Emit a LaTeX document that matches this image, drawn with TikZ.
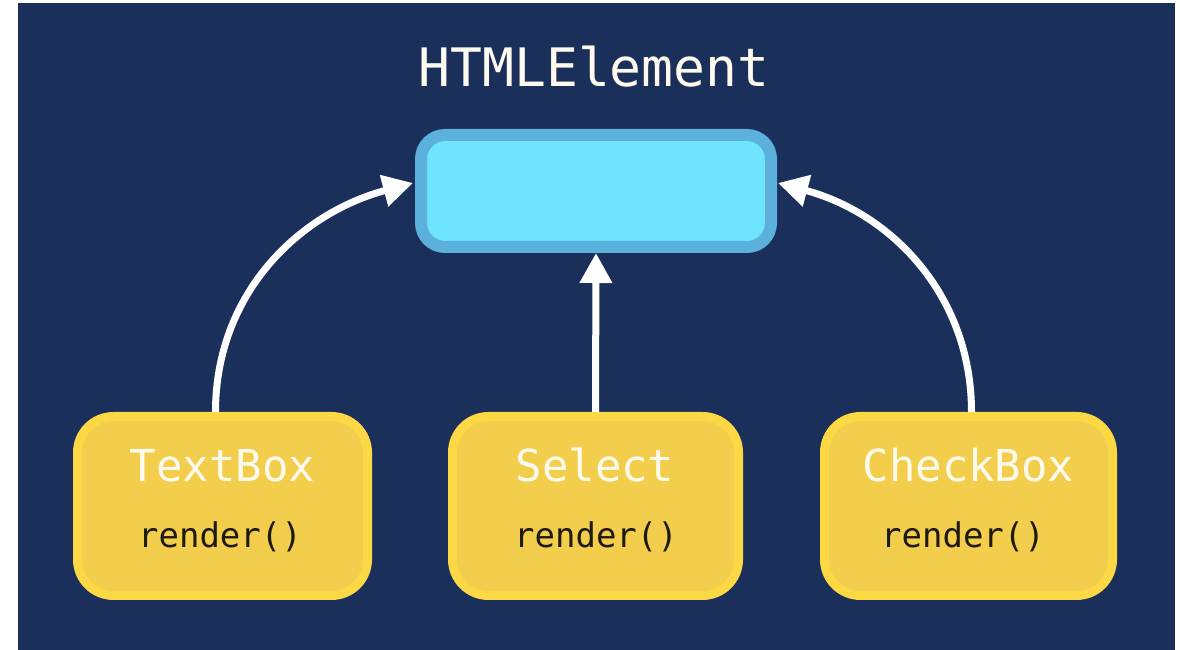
\documentclass[tikz,border=0pt]{standalone}
\usepackage{fontspec}
\newfontfamily\codefont{DejaVu Sans Mono}
\usetikzlibrary{arrows.meta}
\definecolor{navy}{HTML}{1B2F5B}
\definecolor{boxgold}{HTML}{F3CD4C}
\definecolor{boxgoldrim}{HTML}{FDD845}
\definecolor{skyfill}{HTML}{6EE4FE}
\definecolor{skyrim}{HTML}{5BB0DC}
\definecolor{cream}{HTML}{FFFAEE}
\definecolor{ink}{HTML}{1E1A10}
\tikzset{
  classbox/.style={rectangle, rounded corners=36pt, fill=boxgold, draw=boxgoldrim,
    line width=9pt, minimum height=179pt, inner sep=0pt},
  basebox/.style={rectangle, rounded corners=24pt, fill=skyfill, draw=skyrim,
    line width=12pt, minimum width=350pt, minimum height=112pt, inner sep=0pt},
  classname/.style={anchor=base, text=cream, font=\codefont\fontsize{44}{44}\selectfont, inner sep=0pt},
  methodname/.style={anchor=base, text=ink, font=\codefont\fontsize{34}{34}\selectfont, inner sep=0pt},
  titletext/.style={anchor=base, text=cream, font=\codefont\fontsize{53}{53}\selectfont, inner sep=0pt},
  linkarrow/.style={draw=white, line width=7pt, -{Triangle[length=30pt,width=31pt]}}
}
\begin{document}
\begin{tikzpicture}[x=1pt, y=1pt]
  \useasboundingbox (0,0) rectangle (1180,650);
  \fill[navy] (18,0) rectangle (1175,647);

  % parent class
  \node[titletext] (title) at (594,563) {HTMLElement};
  \node[basebox] (html) at (596,459) {};

  % subclasses
  \node[classbox, minimum width=290pt] (tb) at (222.5,144) {};
  \node[classbox, minimum width=286pt] (sel) at (595.5,144) {};
  \node[classbox, minimum width=288pt] (cb) at (968.5,144) {};

  \node[classname] (tbname) at (222.5,168) {TextBox};
  \node[methodname] (tbrender) at (220,102) {render()};
  \node[classname] (selname) at (595,168) {Select};
  \node[methodname] (selrender) at (596,102) {render()};
  \node[classname] (cbname) at (968.5,168) {CheckBox};
  \node[methodname] (cbrender) at (963,102) {render()};

  % inheritance arrows
  \draw[linkarrow]
    ([xshift=-7pt]tb.north) to[out=90, in=195] ([xshift=-2pt,yshift=8pt]html.west);
  \draw[linkarrow]
    (sel.north) -- (html.south);
  \draw[linkarrow]
    ([xshift=3pt]cb.north) to[out=90, in=-15] ([xshift=1pt,yshift=8pt]html.east);
\end{tikzpicture}
\end{document}
